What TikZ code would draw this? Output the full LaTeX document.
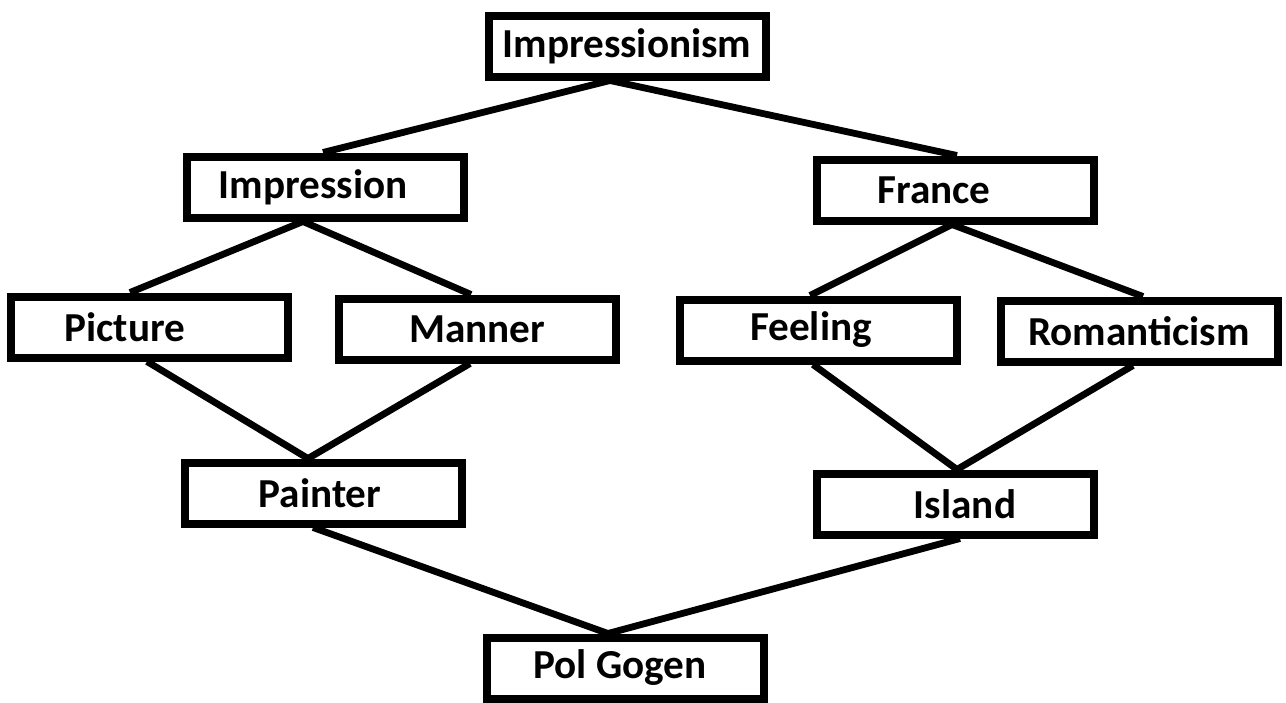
\documentclass[tikz,border=0pt]{standalone}
\usepackage{fontspec}
\setmainfont{Carlito}
\usetikzlibrary{positioning, calc}

\begin{document}
\begin{tikzpicture}[x=0.5pt, y=-0.5pt]

		\tikzstyle{conc}=[rectangle, draw=black, line width=4pt, minimum width=138.5pt, minimum height=30.5pt, fill=white, inner sep=0pt]
		\tikzstyle{word}=[font=\fontsize{20.6}{24}\selectfont\bfseries, text=black, inner sep=0pt]
		\tikzstyle{link}=[line width=3.4pt]

		\useasboundingbox (0,0) rectangle (1286,702);

		\node (imps) at (627,46) [conc] {};
		\node (impr) at (325,187) [conc] {};
		\node (fran) at (955,190) [conc] {};
		\node (pict) at (149,327) [conc] {};
		\node (mann) at (477,329) [conc] {};
		\node (feel) at (818,330) [conc] {};
		\node (roma) at (1139,331) [conc] {};
		\node (pain) at (323,493) [conc] {};
		\node (isla) at (955,504) [conc] {};
		\node (polg) at (625,668) [conc] {};

		\node (wimps) at (imps.center) [word] {Impressionism};
		\node (wimpr) at ([xshift=-6pt]impr.center) [word] {Impression};
		\node (wfran) at ([xshift=-10.5pt]fran.center) [word] {France};
		\node (wpict) at ([xshift=-12pt]pict.center) [word] {Picture};
		\node (wmann) at (mann.center) [word] {Manner};
		\node (wfeel) at ([xshift=-3.5pt]feel.center) [word] {Feeling};
		\node (wroma) at (roma.center) [word] {Romanticism};
		\node (wpain) at ([xshift=-1.5pt]pain.center) [word] {Painter};
		\node (wisla) at ([xshift=5pt]isla.center) [word] {Island};
		\node (wpolg) at ([xshift=-2.5pt]polg.center) [word] {Pol Gogen};

		%% top level
		\draw [link] ([xshift=-8.5pt]imps.south) -- ([xshift=-1pt]impr.north);
		\draw [link] ([xshift=-8.5pt]imps.south) -- ([xshift=1pt]fran.north);

		%% second level
		\draw [link] ([xshift=-11pt]impr.south) -- ([xshift=-9.5pt]pict.north);
		\draw [link] ([xshift=-11pt]impr.south) -- ([xshift=-3pt]mann.north);
		\draw [link] ([xshift=-1.5pt]fran.south) -- ([xshift=-4pt]feel.north);
		\draw [link] ([xshift=-1.5pt]fran.south) -- ([xshift=2pt]roma.north);

		%% third level
		\draw [link] ([xshift=-1pt]pict.south) -- ([xshift=-7.5pt]pain.north);
		\draw [link] ([xshift=-3.5pt]mann.south) -- ([xshift=-7.5pt]pain.north);
		\draw [link] ([xshift=-2.5pt]feel.south) -- ([xshift=1pt]isla.north);
		\draw [link] ([xshift=-3pt]roma.south) -- ([xshift=1pt]isla.north);

		%% bottom
		\draw [link] ([xshift=-5pt]pain.south) -- ([xshift=-8.5pt]polg.north);
		\draw [link] ([xshift=2.5pt]isla.south) -- ([xshift=-8.5pt]polg.north);

\end{tikzpicture}
\end{document}
